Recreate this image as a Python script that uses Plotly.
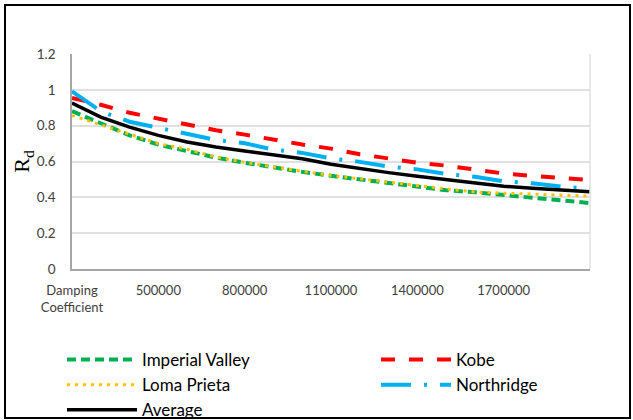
import plotly.graph_objects as go

# Category labels (x axis)
categories = ["Damping Coefficient"] + [str(v) for v in range(300000, 2000001, 100000)]
tick_categories = ["Damping Coefficient", "500000", "800000", "1100000", "1400000", "1700000"]
tick_text = ["Damping<br>Coefficient", "500000", "800000", "1100000", "1400000", "1700000"]

# Series values
imperial_valley = [0.881, 0.811, 0.746, 0.694, 0.659, 0.622, 0.593, 0.565, 0.542, 0.520,
                   0.499, 0.480, 0.462, 0.440, 0.428, 0.412, 0.395, 0.381, 0.368]
kobe = [0.955, 0.917, 0.872, 0.839, 0.807, 0.774, 0.750, 0.722, 0.695, 0.672,
        0.640, 0.617, 0.593, 0.577, 0.557, 0.533, 0.520, 0.511, 0.497]
loma_prieta = [0.857, 0.805, 0.750, 0.700, 0.668, 0.625, 0.595, 0.568, 0.545, 0.522,
               0.502, 0.484, 0.466, 0.447, 0.430, 0.423, 0.418, 0.412, 0.407]
northridge = [0.992, 0.880, 0.822, 0.789, 0.757, 0.720, 0.702, 0.666, 0.648, 0.617,
              0.598, 0.572, 0.556, 0.530, 0.515, 0.490, 0.478, 0.460, 0.448]
average = [0.926, 0.848, 0.792, 0.746, 0.709, 0.681, 0.659, 0.639, 0.615, 0.585,
           0.560, 0.538, 0.518, 0.498, 0.480, 0.462, 0.451, 0.440, 0.431]

y_ticks = [0, 0.2, 0.4, 0.6, 0.8, 1.0, 1.2]
y_ticktext = ["0", "0.2", "0.4", "0.6", "0.8", "1", "1.2"]

fig = go.Figure()
fig.add_trace(go.Scatter(x=categories, y=imperial_valley, name="Imperial Valley", mode="lines",
                         line=dict(color="#00B050", width=4, dash="9px,5px"), legend="legend"))
fig.add_trace(go.Scatter(x=categories, y=kobe, name="Kobe", mode="lines",
                         line=dict(color="#FF0000", width=4, dash="14px,14px"), legend="legend2"))
fig.add_trace(go.Scatter(x=categories, y=loma_prieta, name="Loma Prieta", mode="lines",
                         line=dict(color="#FFC000", width=3, dash="3px,5px"), legend="legend"))
fig.add_trace(go.Scatter(x=categories, y=northridge, name="Northridge", mode="lines",
                         line=dict(color="#00B0F0", width=4, dash="30px,13px,3px,13px"), legend="legend2"))
fig.add_trace(go.Scatter(x=categories, y=average, name="Average", mode="lines",
                         line=dict(color="#000000", width=3.5), legend="legend"))

L, R, T, B = 72, 43, 54, 151
W, H = 633, 420
pw, ph = W - L - R, H - T - B

def px_x(p):
    return (p - L) / pw

def px_y(p):
    return (H - B - p) / ph

font_family = "Lato, 'Open Sans', sans-serif"
legend_font = dict(size=17, color="#000000", family=font_family)

fig.update_layout(
    width=W, height=H,
    margin=dict(l=L, r=R, t=T, b=B, autoexpand=False),
    paper_bgcolor="white", plot_bgcolor="white",
    font=dict(family=font_family, color="#404040", size=13),
    legend=dict(x=px_x(62), y=px_y(342), xanchor="left", yanchor="top",
                orientation="v", font=legend_font,
                bgcolor="rgba(0,0,0,0)", itemwidth=70, tracegroupgap=0),
    legend2=dict(x=px_x(376), y=px_y(342), xanchor="left", yanchor="top",
                 orientation="v", font=legend_font,
                 bgcolor="rgba(0,0,0,0)", itemwidth=70, tracegroupgap=0),
    xaxis=dict(type="category", categoryorder="array", categoryarray=categories,
               range=[0, len(categories) - 1], automargin=False,
               tickmode="array", tickvals=tick_categories, ticktext=tick_text,
               showgrid=False, showline=True, linecolor="#A6A6A6", linewidth=1.5,
               ticks="", ticklabelstandoff=9, tickangle=0,
               tickfont=dict(size=13, color="#404040")),
    yaxis=dict(range=[0, 1.2], tickmode="array", tickvals=y_ticks, ticktext=y_ticktext,
               automargin=False,
               showgrid=True, gridcolor="#E0E0E0", gridwidth=1.5,
               showline=True, linecolor="#A6A6A6", linewidth=1.5, zeroline=False,
               ticks="", ticklabelstandoff=12,
               tickfont=dict(size=13.5, color="#404040"),
               title=dict(text="R<sub>d</sub>", standoff=0,
                          font=dict(family="Liberation Serif, serif", size=22, color="#000000"))),
    shapes=[
        dict(type="line", xref="paper", yref="paper", x0=1, x1=1, y0=0, y1=1,
             line=dict(color="#E0E0E0", width=1.5)),
        dict(type="rect", xref="paper", yref="paper",
             x0=px_x(5), x1=px_x(630), y0=px_y(418), y1=px_y(5),
             line=dict(color="#000000", width=2)),
    ],
)

fig.write_html("out.html", config={"displayModeBar": False},
               post_script="document.body.style.margin='0px';")
